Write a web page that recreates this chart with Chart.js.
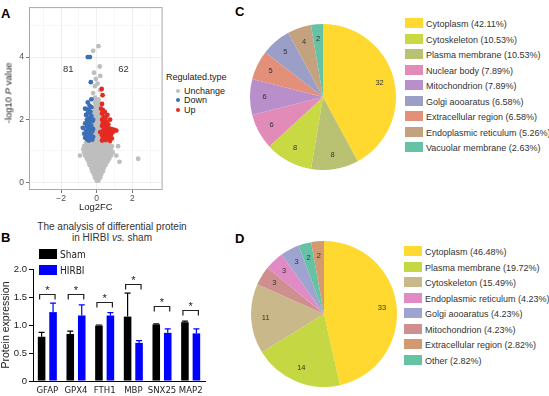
<!DOCTYPE html>
<html>
<head>
<meta charset="utf-8">
<script src="https://cdn.jsdelivr.net/npm/chart.js@4.4.1/dist/chart.umd.min.js"></script>
<style>
html, body { margin: 0; padding: 0; background: #fff; }
#fig { position: relative; width: 549px; height: 396px; overflow: hidden; font-family: "Liberation Sans", Arial, sans-serif; color: #333; }
#fig canvas, #fig .abs { position: absolute; }
.panel { font-weight: bold; font-size: 13px; line-height: 1; color: #000; }
.leg { font-size: 9px; line-height: 15.5px; white-space: nowrap; }
.leg .sw { display: inline-block; width: 18px; height: 10px; margin-right: 3px; vertical-align: -1px; }
.vleg { font-size: 9px; line-height: 9.5px; white-space: nowrap; color: #222; }
.vleg .dot { display: inline-block; width: 4px; height: 4px; border-radius: 50%; margin: 0 4px 0 10px; vertical-align: 1px; }
.bleg { font-family: "Liberation Sans Narrow", "Arial Narrow", "DejaVu Sans Condensed", sans-serif; font-size: 10px; line-height: 16px; color: #222; white-space: nowrap; }
.bleg .sw { display: inline-block; width: 18px; height: 10px; margin-right: 3px; vertical-align: -1px; }
</style>
</head>
<body>
<div id="fig">
  <div class="abs panel" style="left:1px;top:7px">A</div>
  <div class="abs panel" style="left:1px;top:231px">B</div>
  <div class="abs panel" style="left:235px;top:5px">C</div>
  <div class="abs panel" style="left:235px;top:232px">D</div>

  <canvas id="volcano" width="165" height="216" style="left:0;top:0"></canvas>
  <div class="abs" style="left:8px;top:93px;transform:translate(-50%,-50%) rotate(-90deg);font-size:9.5px;white-space:nowrap;color:#222">-log10 <i>P</i> value</div>
  <div id="volcLegend" class="abs vleg" style="left:166px;top:73px"></div>

  <div class="abs" style="left:20px;top:221px;width:184px;text-align:center;font-size:10px;line-height:11px;color:#333">The analysis of differential protein<br>in HIRBI <i>vs.</i> sham</div>
  <canvas id="bars" width="207" height="146" style="left:0;top:250px"></canvas>
  <div id="barLegend" class="abs bleg" style="left:39px;top:247px"></div>

  <canvas id="pieC" width="146" height="146" style="left:250px;top:24px"></canvas>
  <div id="legC" class="abs leg" style="left:405px;top:17px"></div>
  <canvas id="pieD" width="146" height="146" style="left:251px;top:241px"></canvas>
  <div id="legD" class="abs leg" style="left:404px;top:245px"></div>
</div>

<script>
// ---- panel A : volcano ----
const volcTypes = ['Unchange', 'Down', 'Up'];
const volcColors = ['#bebebe', '#3b6fb6', '#e32b22'];
const countDown = 81;
const countUp = 62;
const volcXTicks = [-3, -2, -1, 0, 1, 2, 3];
const volcYTicks = [0, 1, 2, 3, 4, 5];

const downPts = [
  [-0.5, 4.0], [-0.38, 4.0], [-0.33, 3.2], [-0.3, 2.65], [-0.5, 2.55], [-0.4, 2.45], [-0.3, 2.4],
  [-0.65, 2.35], [-0.55, 2.33], [-0.45, 2.3], [-0.35, 2.25], [-0.5, 2.2], [-0.6, 2.15], [-0.3, 2.12],
  [-0.45, 2.05], [-0.55, 2.0], [-0.35, 1.98], [-0.25, 1.95], [-0.5, 1.9], [-0.65, 1.88], [-0.4, 1.85],
  [-0.3, 1.8], [-0.55, 1.78], [-0.78, 1.74], [-0.45, 1.72], [-0.35, 1.68], [-0.6, 1.65], [-0.5, 1.6],
  [-0.25, 1.62], [-0.4, 1.55], [-0.7, 1.55], [-0.55, 1.5], [-0.3, 1.48], [-0.45, 1.45], [-0.65, 1.42],
  [-0.35, 1.4], [-0.55, 1.37], [-0.25, 1.36], [-0.45, 1.33], [-0.2, 1.45], [-0.2, 1.7], [-0.2, 2.0]
];
const upPts = [
  [0.28, 2.98], [0.33, 2.78], [0.3, 2.5], [0.35, 2.3], [0.45, 2.25], [0.3, 2.2], [0.6, 2.15],
  [0.4, 2.1], [0.5, 2.05], [0.3, 2.0], [0.42, 1.95], [0.55, 1.92], [0.35, 1.88], [0.65, 1.85],
  [0.45, 1.82], [0.3, 1.8], [0.55, 1.75], [0.7, 1.72], [0.4, 1.7], [0.85, 1.7], [1.0, 1.67],
  [1.1, 1.65], [0.6, 1.65], [0.3, 1.62], [0.5, 1.6], [0.75, 1.6], [0.9, 1.6], [0.4, 1.55],
  [0.65, 1.55], [0.8, 1.52], [0.3, 1.5], [0.55, 1.48], [0.45, 1.45], [0.7, 1.42], [0.35, 1.4],
  [0.6, 1.38], [0.85, 1.4], [0.5, 1.35], [0.3, 1.33], [0.75, 1.32], [0.25, 2.35], [0.75, 2.0], [0.2, 1.6]
];
// unchanged proteins, grouped by -log10 P row: [y, [x values]]
const grayRows = [
  [0.05, [0.0, 0.1]],
  [0.15, [-0.1, 0.0, 0.1, 0.2]],
  [0.25, [-0.15, -0.05, 0.05, 0.15, 0.25]],
  [0.35, [-0.25, -0.15, -0.05, 0.05, 0.15, 0.25, 0.35]],
  [0.45, [-0.3, -0.2, -0.1, 0.0, 0.1, 0.2, 0.3, 0.4]],
  [0.55, [-0.4, -0.3, -0.2, -0.1, 0.0, 0.1, 0.2, 0.3, 0.4, 0.5]],
  [0.65, [-0.45, -0.35, -0.25, -0.15, -0.05, 0.05, 0.15, 0.25, 0.35, 0.45, 0.6, 1.28]],
  [0.75, [-0.55, -0.45, -0.35, -0.25, -0.15, -0.05, 0.05, 0.15, 0.25, 0.35, 0.45, 0.55, 0.7, 2.33]],
  [0.85, [-0.94, -0.65, -0.55, -0.45, -0.35, -0.25, -0.15, -0.05, 0.05, 0.15, 0.25, 0.35, 0.45, 0.55, 0.65, 0.8, 1.1]],
  [0.95, [-0.7, -0.6, -0.5, -0.4, -0.3, -0.2, -0.1, 0.0, 0.1, 0.2, 0.3, 0.4, 0.5, 0.6, 0.75, 0.9]],
  [1.05, [-0.75, -0.65, -0.55, -0.45, -0.35, -0.25, -0.15, -0.05, 0.05, 0.15, 0.25, 0.35, 0.45, 0.55, 0.65, 0.8]],
  [1.15, [-0.7, -0.6, -0.5, -0.4, -0.3, -0.2, -0.1, 0.0, 0.1, 0.2, 0.3, 0.4, 0.5, 0.6, 0.7, 0.85, 1.2]],
  [1.25, [-0.6, -0.5, -0.4, -0.3, -0.2, -0.1, 0.0, 0.1, 0.2, 0.3, 0.4, 0.5, 0.6, 0.7]],
  [1.35, [-0.2, -0.1, 0.0, 0.1, 0.2]],
  [1.45, [-0.15, -0.05, 0.05, 0.15]],
  [1.55, [-0.1, 0.0, 0.1, 0.2]],
  [1.65, [-0.15, -0.05, 0.05, 0.15]],
  [1.75, [-0.1, 0.0, 0.1, 0.2]],
  [1.85, [-0.15, -0.05, 0.05, 0.15]],
  [1.95, [-0.1, 0.0, 0.1, 0.2]],
  [2.05, [-0.15, -0.05, 0.05, 0.15]],
  [2.15, [-0.1, 0.0, 0.1, 0.2]],
  [2.25, [-0.15, -0.05, 0.05, 0.15]],
  [2.35, [-0.1, 0.0, 0.1]],
  [2.45, [-0.05, 0.05, 0.15]],
  [2.55, [-0.1, 0.0, 0.1]],
  [2.65, [0.1]], [2.7, [-0.1]], [2.85, [-0.2]], [2.94, [0.2]], [3.07, [-0.1]], [3.15, [0.05]],
  [3.3, [-0.05]], [3.4, [0.2]], [3.5, [-0.15]], [3.7, [0.17]], [4.2, [-0.2]], [4.35, [0.1]]
];

// ---- panel B : bars ----
const genes = ['GFAP', 'GPX4', 'FTH1', 'MBP', 'SNX25', 'MAP2'];
const shamMean = [0.79, 0.84, 0.99, 1.15, 1.01, 1.05];
const shamSD = [0.08, 0.05, 0.01, 0.42, 0.01, 0.02];
const hirbiMean = [1.23, 1.17, 1.17, 0.68, 0.86, 0.85];
const hirbiSD = [0.16, 0.19, 0.05, 0.04, 0.07, 0.08];
const sigLevel = [1.55, 1.55, 1.41, 1.73, 1.34, 1.27];
const barYTicks = [0, 0.5, 1.0, 1.5, 2.0];

// ---- panel C : pie ----
const cLabels = ['Cytoplasm', 'Plasma membrane', 'Cytoskeleton', 'Nuclear body', 'Mitochondrion',
  'Extracellular region', 'Golgi aooaratus', 'Endoplasmic reticulum', 'Vacuolar membrane'];
const cCounts = [32, 8, 8, 6, 6, 5, 5, 4, 2];
const cColors = ['#ffd92f', '#b8c272', '#c8d944', '#e28bb8', '#b88fcb', '#e3907a', '#9b9fc8', '#c5a27f', '#66c2a5'];
const cLegendOrder = [0, 2, 1, 3, 4, 6, 5, 7, 8];

// ---- panel D : pie ----
const dLabels = ['Cytoplasm', 'Plasma membrane', 'Cytoskeleton', 'Mitochondrion', 'Endoplasmic reticulum',
  'Golgi aooaratus', 'Other', 'Extracellular region'];
const dCounts = [33, 14, 11, 3, 3, 3, 2, 2];
const dColors = ['#ffd92f', '#c5d843', '#c9b98a', '#cf8f8f', '#e08bc6', '#9ea3d0', '#66c2a5', '#d39a72'];
const dLegendOrder = [0, 1, 2, 4, 5, 3, 7, 6];

const FONT = '"Liberation Sans", Arial, sans-serif';
const NARROW = '"Liberation Sans Narrow", "Arial Narrow", "DejaVu Sans Condensed", sans-serif';

// ---------- volcano ----------
const toXY = arr => arr.map(p => ({ x: p[0], y: p[1] }));
const grayPts = grayRows.flatMap(([y, xs]) => xs.map(x => ({ x: x, y: y })));

const panelBorder = {
  id: 'panelBorder',
  afterDraw(chart) {
    const { ctx, chartArea: a } = chart;
    ctx.save();
    ctx.strokeStyle = '#a8a8a8';
    ctx.lineWidth = 1;
    ctx.strokeRect(a.left + 0.5, a.top + 0.5, a.width - 1, a.height - 1);
    ctx.restore();
  }
};
const countText = {
  id: 'countText',
  afterDatasetsDraw(chart) {
    const { ctx, scales: { x, y } } = chart;
    ctx.save();
    ctx.fillStyle = '#333';
    ctx.font = '9.5px ' + FONT;
    ctx.textAlign = 'center';
    ctx.textBaseline = 'middle';
    ctx.fillText(String(countDown), x.getPixelForValue(-1.6), y.getPixelForValue(3.6));
    ctx.fillText(String(countUp), x.getPixelForValue(1.5), y.getPixelForValue(3.6));
    ctx.restore();
  }
};

new Chart(document.getElementById('volcano'), {
  type: 'scatter',
  data: {
    datasets: [
      { label: 'Up', data: toXY(upPts), backgroundColor: volcColors[2] },
      { label: 'Down', data: toXY(downPts), backgroundColor: volcColors[1] },
      { label: 'Unchange', data: grayPts, backgroundColor: volcColors[0] }
    ]
  },
  options: {
    responsive: false,
    animation: false,
    elements: { point: { radius: 2.4, borderWidth: 0, hoverRadius: 2.4 } },
    layout: { padding: { top: 1, right: 2, left: 0, bottom: 0 } },
    plugins: { legend: { display: false }, tooltip: { enabled: false } },
    scales: {
      x: {
        type: 'linear', min: -3.8, max: 3.7,
        afterBuildTicks(s) { s.ticks = volcXTicks.map(v => ({ value: v })); },
        afterFit(s) { s.height = 26; },
        border: { display: false },
        grid: {
          color: c => (c.tick && c.tick.value % 2 === 0) ? '#ebebeb' : '#f5f5f5',
          tickColor: c => (c.tick && c.tick.value % 2 === 0) ? '#555' : 'rgba(0,0,0,0)',
          tickLength: 3, lineWidth: 0.8
        },
        ticks: {
          autoSkip: false, maxRotation: 0, padding: 1, color: '#4d4d4d',
          font: { family: FONT, size: 8.5 },
          callback: v => v % 2 === 0 ? (v < 0 ? '\u2212' + Math.abs(v) : String(v)) : ''
        },
        title: { display: true, text: 'Log2FC', color: '#222', font: { family: FONT, size: 9.5 }, padding: { top: 0, bottom: 3 } }
      },
      y: {
        min: -0.25, max: 5.6,
        afterBuildTicks(s) { s.ticks = volcYTicks.map(v => ({ value: v })); },
        afterFit(s) { s.width = 29; },
        border: { display: false },
        grid: {
          color: c => (c.tick && c.tick.value % 2 === 0) ? '#ebebeb' : '#f5f5f5',
          tickColor: c => (c.tick && c.tick.value % 2 === 0) ? '#555' : 'rgba(0,0,0,0)',
          tickLength: 3, lineWidth: 0.8
        },
        ticks: {
          padding: 2, color: '#4d4d4d', font: { family: FONT, size: 8.5 },
          callback: v => v % 2 === 0 ? String(v) : ''
        }
      }
    }
  },
  plugins: [panelBorder, countText]
});

// volcano legend
(function () {
  const el = document.getElementById('volcLegend');
  let html = '<div>Regulated.type</div><div style="height:4px"></div>';
  volcTypes.forEach((t, i) => {
    html += '<div><span class="dot" style="background:' + volcColors[i] + '"></span>' + t + '</div>';
  });
  el.innerHTML = html;
})();

// ---------- bars ----------
const errorBars = {
  id: 'errorBars',
  afterDatasetsDraw(chart) {
    const { ctx, scales: { y } } = chart;
    ctx.save();
    ctx.lineWidth = 1.2;
    chart.data.datasets.forEach((ds, di) => {
      const meta = chart.getDatasetMeta(di);
      ctx.strokeStyle = ds.backgroundColor;
      meta.data.forEach((bar, i) => {
        const top = y.getPixelForValue(ds.data[i] + ds.sd[i]);
        const cx = bar.x;
        ctx.beginPath();
        ctx.moveTo(cx, bar.y);
        ctx.lineTo(cx, top);
        ctx.moveTo(cx - 3, top);
        ctx.lineTo(cx + 3, top);
        ctx.stroke();
      });
    });
    ctx.restore();
  }
};
const sigBrackets = {
  id: 'sigBrackets',
  afterDatasetsDraw(chart) {
    const { ctx, scales: { y } } = chart;
    const m0 = chart.getDatasetMeta(0), m1 = chart.getDatasetMeta(1);
    ctx.save();
    ctx.strokeStyle = '#222';
    ctx.fillStyle = '#222';
    ctx.lineWidth = 1.2;
    ctx.font = '11px ' + FONT;
    ctx.textAlign = 'center';
    ctx.textBaseline = 'alphabetic';
    sigLevel.forEach((h, i) => {
      const x0 = m0.data[i].x - 2, x1 = m1.data[i].x + 2;
      const py = Math.round(y.getPixelForValue(h)) + 0.5;
      ctx.beginPath();
      ctx.moveTo(x0, py + 5);
      ctx.lineTo(x0, py);
      ctx.lineTo(x1, py);
      ctx.lineTo(x1, py + 5);
      ctx.stroke();
      ctx.fillText('*', (x0 + x1) / 2, py - 0.5);
    });
    ctx.restore();
  }
};

new Chart(document.getElementById('bars'), {
  type: 'bar',
  data: {
    labels: genes,
    datasets: [
      { label: 'Sham', data: shamMean, sd: shamSD, backgroundColor: '#000000' },
      { label: 'HIRBI', data: hirbiMean, sd: hirbiSD, backgroundColor: '#0000ff' }
    ]
  },
  options: {
    responsive: false,
    animation: false,
    layout: { padding: { top: 19, right: 2, left: 0, bottom: 0 } },
    datasets: { bar: { categoryPercentage: 0.8, barPercentage: 0.66 } },
    plugins: { legend: { display: false }, tooltip: { enabled: false } },
    scales: {
      x: {
        grid: { display: false, drawTicks: false },
        border: { color: '#000', width: 1 },
        ticks: { color: '#222', font: { family: NARROW, size: 9.5 }, padding: 4, maxRotation: 0, autoSkip: false },
        afterFit(s) { s.height = 15; }
      },
      y: {
        min: 0, max: 2,
        afterBuildTicks(s) { s.ticks = barYTicks.map(v => ({ value: v })); },
        afterFit(s) { s.width = 33; },
        border: { color: '#000', width: 1 },
        grid: { drawOnChartArea: false, tickLength: 4, tickColor: '#000' },
        ticks: { color: '#222', font: { family: FONT, size: 9.5 }, padding: 2, callback: v => v === 0 ? '0' : v.toFixed(1) },
        title: { display: true, text: 'Protein expression', color: '#222', font: { family: FONT, size: 10.5 }, padding: { top: 0, bottom: 0 } }
      }
    }
  },
  plugins: [errorBars, sigBrackets]
});

document.getElementById('barLegend').innerHTML =
  '<div><span class="sw" style="background:#000"></span>Sham</div>' +
  '<div><span class="sw" style="background:#0000ff"></span>HIRBI</div>';

// ---------- pies ----------
const sliceLabels = {
  id: 'sliceLabels',
  afterDatasetsDraw(chart) {
    const { ctx } = chart;
    const ds = chart.data.datasets[0];
    ctx.save();
    ctx.fillStyle = '#333';
    ctx.font = '7.5px ' + FONT;
    ctx.textAlign = 'center';
    ctx.textBaseline = 'middle';
    chart.getDatasetMeta(0).data.forEach((arc, i) => {
      const a = (arc.startAngle + arc.endAngle) / 2;
      const r = arc.outerRadius * 0.8;
      ctx.fillText(String(ds.data[i]), arc.x + Math.cos(a) * r, arc.y + Math.sin(a) * r);
    });
    ctx.restore();
  }
};

function makePie(id, labels, counts, colors) {
  new Chart(document.getElementById(id), {
    type: 'pie',
    data: { labels: labels, datasets: [{ data: counts, backgroundColor: colors, borderWidth: 0 }] },
    options: {
      responsive: false,
      animation: false,
      layout: { padding: 0 },
      plugins: { legend: { display: false }, tooltip: { enabled: false } }
    },
    plugins: [sliceLabels]
  });
}

function buildLegend(id, labels, counts, colors, order) {
  const total = counts.reduce((a, b) => a + b, 0);
  const el = document.getElementById(id);
  order.forEach(i => {
    const row = document.createElement('div');
    row.innerHTML = '<span class="sw" style="background:' + colors[i] + '"></span>' +
      labels[i] + ' (' + (counts[i] / total * 100).toFixed(2) + '%)';
    el.appendChild(row);
  });
}

makePie('pieC', cLabels, cCounts, cColors);
makePie('pieD', dLabels, dCounts, dColors);
buildLegend('legC', cLabels, cCounts, cColors, cLegendOrder);
buildLegend('legD', dLabels, dCounts, dColors, dLegendOrder);
</script>
</body>
</html>
